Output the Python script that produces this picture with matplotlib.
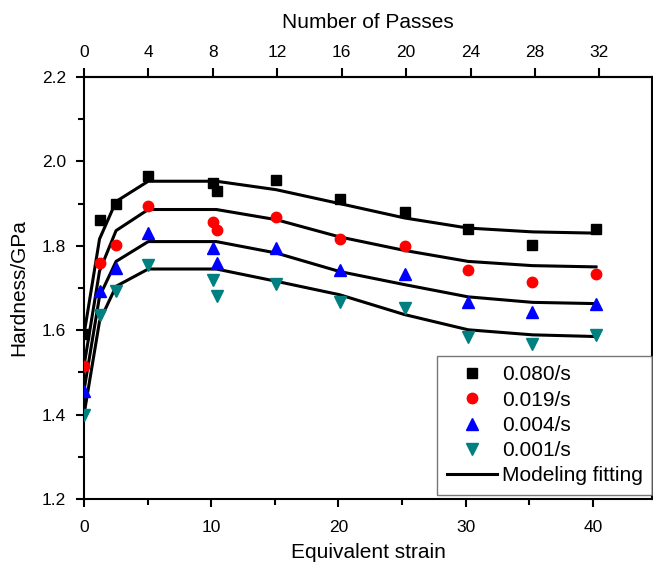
import matplotlib.pyplot as plt
from matplotlib.ticker import MultipleLocator
from matplotlib.lines import Line2D

plt.rcParams['font.family'] = ['Liberation Sans', 'DejaVu Sans']

# measured hardness (GPa) vs equivalent strain
strain = [0, 1.22, 2.52, 5.05, 10.17, 10.45, 15.1, 20.1, 25.2, 30.2, 35.25, 40.25]
h_080 = [1.59, 1.860, 1.900, 1.966, 1.950, 1.931, 1.957, 1.911, 1.879, 1.840, 1.803, 1.840]
h_019 = [1.516, 1.759, 1.803, 1.895, 1.856, 1.838, 1.868, 1.815, 1.800, 1.743, 1.714, 1.732]
h_004 = [1.457, 1.694, 1.747, 1.830, 1.795, 1.759, 1.795, 1.743, 1.734, 1.666, 1.643, 1.663]
h_001 = [1.400, 1.637, 1.692, 1.755, 1.720, 1.680, 1.710, 1.666, 1.653, 1.585, 1.568, 1.589]

# model fitting curves
fit_strain = [0, 1.22, 2.52, 5.05, 10.4, 15.1, 20.1, 25.2, 30.2, 35.25, 40.25]
fit_080 = [1.59, 1.816, 1.905, 1.953, 1.953, 1.933, 1.900, 1.866, 1.842, 1.833, 1.830]
fit_019 = [1.515, 1.74, 1.836, 1.886, 1.886, 1.862, 1.821, 1.789, 1.763, 1.753, 1.750]
fit_004 = [1.457, 1.68, 1.763, 1.810, 1.810, 1.783, 1.739, 1.708, 1.679, 1.666, 1.663]
fit_001 = [1.40, 1.621, 1.704, 1.745, 1.745, 1.716, 1.684, 1.637, 1.601, 1.589, 1.585]

strain_per_pass = 1.266
pass_ticks = [0, 4, 8, 12, 16, 20, 24, 28, 32]

fig = plt.figure(figsize=(6.53, 5.66), dpi=100)
ax = fig.add_axes([84 / 653, 1 - 499 / 566, 568 / 653, 422 / 566])

for fit in [fit_080, fit_019, fit_004, fit_001]:
    ax.plot(fit_strain, fit, color='black', lw=2.2, zorder=2)

ax.plot(strain, h_080, 's', color='black', ms=7, ls='none', zorder=3)
ax.plot(strain, h_019, 'o', color='red', ms=7.5, ls='none', zorder=3)
ax.plot(strain, h_004, '^', color='blue', ms=8.5, ls='none', zorder=3)
ax.plot(strain, h_001, 'v', color='#008080', ms=8.5, ls='none', zorder=3)

ax.set_xlim(0, 44.65)
ax.set_ylim(1.2, 2.2)
ax.xaxis.set_major_locator(MultipleLocator(10))
ax.xaxis.set_minor_locator(MultipleLocator(5))
ax.yaxis.set_major_locator(MultipleLocator(0.2))
ax.yaxis.set_minor_locator(MultipleLocator(0.1))
ax.yaxis.set_major_formatter(plt.FuncFormatter(lambda v, p: '%.1f' % v))

for s in ax.spines.values():
    s.set_linewidth(1.5)
ax.tick_params(which='major', direction='out', length=6, width=1.5, labelsize=12.5, pad=7)
ax.tick_params(axis='x', which='major', pad=9)
ax.tick_params(which='minor', direction='out', length=4, width=1.5)
ax.tick_params(right=False, top=False)

ax.set_xlabel('Equivalent strain', fontsize=15, labelpad=6)
ax.set_ylabel('Hardness/GPa', fontsize=15, labelpad=10)

top = ax.secondary_xaxis('top', functions=(lambda x: x / strain_per_pass, lambda p: p * strain_per_pass))
top.set_xticks(pass_ticks)
top.tick_params(direction='out', length=6.5, width=1.5, labelsize=12.5, pad=6)
top.spines['top'].set_linewidth(1.5)
top.set_xlabel('Number of Passes', fontsize=15, labelpad=12)

handles = [
    Line2D([], [], marker='s', color='black', ls='none', ms=7),
    Line2D([], [], marker='o', color='red', ls='none', ms=7.5),
    Line2D([], [], marker='^', color='blue', ls='none', ms=8.5),
    Line2D([], [], marker='v', color='#008080', ls='none', ms=8.5),
    Line2D([], [], color='black', lw=2.2),
]
labels = ['0.080/s', '0.019/s', '0.004/s', '0.001/s', 'Modeling fitting']
leg = ax.legend(handles, labels, loc='lower right', bbox_to_anchor=(1.0, 0.01),
                fontsize=15, frameon=True, fancybox=False, edgecolor='#555555',
                handlelength=2.4, handletextpad=0.25, labelspacing=0.3,
                borderpad=0.45, borderaxespad=0.0)
leg.get_frame().set_linewidth(1.0)

fig.savefig('out.png', dpi=100)
